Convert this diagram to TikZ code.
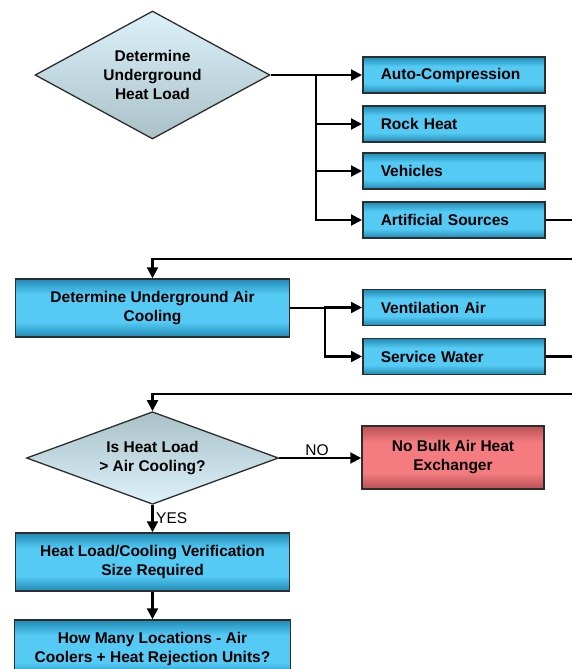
\documentclass[tikz,border=0pt]{standalone}
\usepackage{fontspec}
\setmainfont{Liberation Sans}
\usetikzlibrary{shapes.geometric,arrows.meta}
\definecolor{bdark}{RGB}{32,138,182}
\definecolor{blight}{RGB}{84,202,244}
\definecolor{rdark}{RGB}{186,80,84}
\definecolor{rlight}{RGB}{244,124,128}
\definecolor{dlight}{RGB}{220,241,250}
\definecolor{ddark}{RGB}{170,193,200}
\definecolor{edge}{RGB}{45,45,45}
\pgfdeclareverticalshading{bluesh}{100bp}{color(0bp)=(bdark); color(25bp)=(bdark); color(38bp)=(blight); color(62bp)=(blight); color(75bp)=(bdark); color(100bp)=(bdark)}
\pgfdeclareverticalshading{redsh}{100bp}{color(0bp)=(rdark); color(25bp)=(rdark); color(38bp)=(rlight); color(62bp)=(rlight); color(75bp)=(rdark); color(100bp)=(rdark)}
\tikzset{
  base/.style={font=\fontsize{15.5}{19}\selectfont\bfseries, text=black},
  boxl/.style={base, rectangle, draw=edge, line width=1.5pt, shading=bluesh, anchor=west,
    text width=146pt, inner xsep=18pt, inner ysep=0pt, minimum height=36pt, align=left},
  boxc/.style={base, rectangle, draw=edge, line width=1.5pt, shading=bluesh,
    minimum width=274pt, minimum height=58pt, inner sep=0pt, align=center},
  redbox/.style={base, rectangle, draw=edge, line width=1.5pt, shading=redsh,
    minimum width=182pt, minimum height=63pt, inner sep=0pt, align=center},
  dia/.style={base, diamond, draw=edge, line width=1.3pt, inner sep=0pt, aspect=1.8, align=center},
  conn/.style={line width=2.1pt, draw=black},
  arr/.style={conn, -{Triangle[length=11pt,width=11pt]}},
  lbl/.style={font=\fontsize{15.5}{18}\selectfont, text=black, inner sep=0pt}
}
\begin{document}
\begin{tikzpicture}[x=1pt,y=-1pt]
\useasboundingbox (0,0) rectangle (572,669);
\clip (0,0) rectangle (572,669);
% first diamond
\node[dia, minimum width=235pt, minimum height=128pt, top color=dlight, bottom color=ddark] (d1) at (152.5,75) {Determine\\Underground\\Heat Load};
\node[boxl] (b1) at (362,75) {Auto-Compression};
\node[boxl] (b2) at (362,124) {Rock Heat};
\node[boxl] (b3) at (362,171) {Vehicles};
\node[boxl] (b4) at (362,220) {Artificial Sources};
\coordinate (j1) at (316,75);
\draw[arr] (d1.east) -- (b1.west);
\draw[arr] (j1) |- (b4.west);
\draw[arr] (j1|-b2.west) -- (b2.west);
\draw[arr] (j1|-b3.west) -- (b3.west);
\coordinate (e1) at (572,220);
\draw[conn] (b4.east) -- (e1);
% second row
\node[boxc] (c1) at (152.5,308) {Determine Underground Air\\Cooling};
\coordinate (e2) at (572,259);
\draw[arr] (e2) -| (c1.north);
\node[boxl] (v1) at (362,307.5) {Ventilation Air};
\node[boxl] (v2) at (362,356.5) {Service Water};
\coordinate (j2) at (325,308);
\draw[conn] (c1.east) -- (j2);
\draw[arr] (j2) -- (j2|-v1.west) -- (v1.west);
\draw[arr] (j2) |- (v2.west);
\coordinate (e3) at (572,356.5);
\draw[conn] (v2.east) -- (e3);
% decision
\node[dia, minimum width=252pt, minimum height=90pt, top color=ddark, bottom color=dlight] (d2) at (152.5,458) {Is Heat Load\\> Air Cooling?};
\coordinate (e4) at (572,394);
\draw[arr] (e4) -| (d2.north);
\node[redbox] (r1) at (453,457.5) {No Bulk Air Heat\\Exchanger};
\draw[arr] (d2.east) -- (r1.west|-d2.east);
\node[lbl] (no) at (317,450) {NO};
\node[boxc] (h1) at (152.5,562) {Heat Load/Cooling Verification\\Size Required};
\draw[arr] (d2.south) -- (h1.north);
\node[lbl, anchor=west] (yes) at (156,518) {YES};
\node[boxc, minimum width=276pt] (h2) at (152.5,649) {How Many Locations - Air\\Coolers + Heat Rejection Units?};
\draw[arr] (h1.south) -- (h2.north);
\end{tikzpicture}
\end{document}
